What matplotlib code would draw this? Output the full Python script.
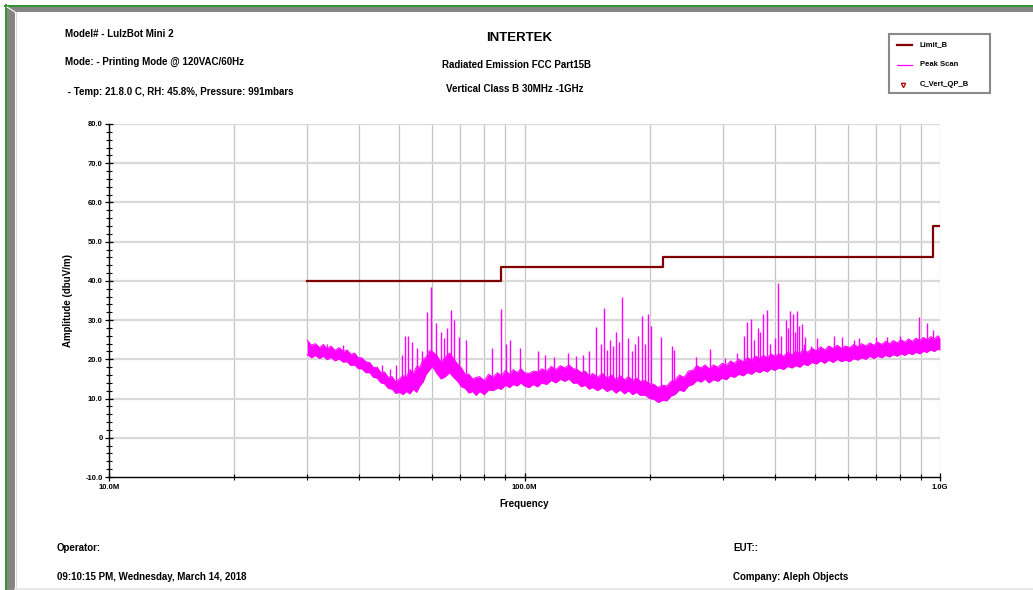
import numpy as np
import matplotlib.pyplot as plt
from matplotlib.ticker import FixedLocator, FixedFormatter
from matplotlib.patches import Rectangle
from matplotlib.lines import Line2D

plt.rcParams['font.family'] = ['Liberation Sans', 'DejaVu Sans']
plt.rcParams['font.weight'] = 'bold'

W, H = 1033, 590

# FCC Part 15B class B limit (MHz, dBuV/m), stepped
limit_freq = [30, 88, 216, 960, 1000]
limit_level = [40.0, 43.5, 46.0, 54.0, 54.0]

# peak scan noise floor: lower / upper edge of the trace (MHz, dBuV/m)
scan_freq = [30, 30.7, 31.4, 32.1, 32.8, 33.5, 34.2, 35, 35.8, 36.6, 37.4, 38.2, 39, 39.8,
             40.6, 41.5, 42.4, 43.3, 44.2, 45.1, 46, 47, 48, 49,
             50, 51, 52, 53, 54, 55, 56, 57, 58, 59, 60,
             61.5, 63, 64.5, 66, 67.5, 69, 70.5, 72, 73.5, 75,
             76.5, 78, 80, 82, 84, 86, 88, 90, 92, 94, 96, 98, 100,
             102.5, 105, 107.5, 110, 113, 116, 119, 122, 125, 128,
             131, 134, 137, 140, 143, 146, 150, 154, 158, 162,
             166, 170, 174, 178, 182, 186, 190, 195, 200,
             205, 210, 215, 220, 225, 230, 236, 242, 248, 254,
             260, 266, 272, 278, 285, 292, 299, 306, 313, 320,
             328, 336, 344, 352, 360, 368, 376, 384, 392, 400,
             410, 420, 430, 440, 450, 460, 470, 480, 492, 504,
             516, 528, 540, 553, 566, 579, 592, 606, 620, 634,
             648, 663, 678, 693, 708, 724, 740, 756, 772, 789,
             806, 823, 840, 858, 876, 894, 912, 931, 950, 969, 988, 1000]
scan_low = [21.2, 20.4, 21.0, 20.2, 20.8, 19.9, 20.5, 19.6, 20.1, 19.3, 19.4, 18.4, 18.6, 17.6,
            17.6, 16.6, 16.6, 15.4, 15.2, 14.0, 13.8, 12.6, 12.4, 11.3,
            11.6, 11.0, 11.8, 11.2, 12.4, 11.6, 13.2, 14.2, 16.2, 17.2, 18.2,
            16.4, 15.0, 15.6, 16.6, 15.4, 14.4, 13.0, 12.6, 11.4, 11.8,
            10.8, 11.8, 11.0, 12.2, 12.0, 12.6, 12.4, 13.4, 12.8, 13.6, 13.2, 14.0, 13.2,
            12.8, 13.6, 13.0, 14.0, 13.6, 14.6, 14.0, 14.9, 14.4, 15.0,
            13.9, 14.0, 13.0, 13.4, 12.4, 12.8, 12.0, 12.8, 11.8, 12.4,
            11.4, 12.2, 11.2, 12.0, 11.0, 11.6, 10.8, 10.9, 10.0,
            9.8, 9.0, 9.6, 9.4, 10.6, 11.0, 12.2, 11.8, 13.2, 13.6,
            14.6, 14.2, 15.0, 14.0, 14.8, 14.4, 15.2, 14.8, 15.8, 15.4,
            16.2, 15.8, 16.6, 16.2, 17.0, 16.6, 17.2, 16.8, 17.6, 17.2,
            17.8, 17.4, 18.2, 17.8, 18.4, 18.0, 18.8, 18.4, 19.2, 18.8,
            19.6, 19.0, 19.8, 19.2, 20.0, 19.4, 19.8, 19.4, 20.2, 19.8,
            20.4, 20.0, 20.8, 20.2, 20.8, 20.4, 21.0, 20.6, 21.2, 20.8,
            21.4, 21.0, 21.6, 21.2, 21.8, 21.4, 22.0, 21.8, 22.4, 22.0, 22.6, 22.4]
scan_high = [24.9, 23.6, 24.0, 23.0, 23.8, 22.6, 23.4, 22.3, 23.0, 22.0, 22.4, 21.3, 21.6, 20.4,
             20.4, 19.4, 19.2, 17.9, 18.0, 16.6, 16.8, 15.4, 15.6, 14.2,
             15.0, 15.8, 15.6, 17.4, 16.4, 18.2, 18.0, 20.0, 20.6, 22.2, 22.0,
             21.0, 19.2, 20.6, 21.6, 20.2, 18.8, 17.8, 16.2, 16.2, 15.0,
             15.4, 15.6, 14.6, 16.2, 15.4, 16.6, 15.8, 17.2, 16.2, 17.4, 16.6, 17.6, 16.6,
             16.4, 17.0, 16.8, 17.6, 17.0, 18.2, 17.4, 18.4, 17.8, 18.6,
             17.6, 17.4, 16.6, 17.0, 15.8, 16.4, 15.4, 16.4, 15.2, 16.0,
             14.8, 15.8, 14.8, 15.6, 14.6, 15.2, 14.4, 14.6, 13.8,
             13.6, 12.8, 13.4, 13.2, 14.4, 14.6, 16.0, 15.4, 17.0, 17.2,
             18.4, 17.8, 18.6, 17.6, 18.6, 18.0, 19.0, 18.4, 19.6, 19.0,
             20.0, 19.4, 20.4, 19.8, 20.8, 20.2, 21.0, 20.4, 21.4, 20.8,
             21.4, 20.8, 21.8, 21.2, 22.0, 21.6, 22.4, 21.8, 22.8, 22.2,
             23.2, 22.4, 23.4, 22.8, 23.6, 22.8, 23.4, 23.0, 23.8, 23.2,
             24.0, 23.4, 24.2, 23.6, 24.4, 23.8, 24.6, 24.0, 24.8, 24.2,
             25.0, 24.4, 25.2, 24.6, 25.4, 24.8, 25.6, 25.0, 25.8, 25.2, 26.0, 25.4]

# narrowband peaks above the floor (MHz, dBuV/m)
spike_freq = [33.5, 36.5, 45.5, 47.5, 49.0, 50.8, 51.6, 52.4, 53.5, 55.2,
              56.7, 58.3, 59.5, 61.3, 63.1, 64.0, 65.2, 66.5, 67.6, 69.7,
              72.5, 83.4, 87.6, 90.2, 92.4, 97.6, 107.8, 112, 118, 127,
              133, 138, 148.8, 155.4, 160.5, 166, 172, 177.5, 184, 191.8,
              198.2, 202, 212.8, 226, 229, 259, 279, 303, 324, 344,
              351, 364, 374, 384, 400, 407, 426, 436, 443, 452,
              465, 473, 505, 557, 581, 640, 747, 889, 930,
              143, 153, 158, 163, 169, 181, 188, 195, 337, 356,
              369, 390, 414, 431, 447, 457, 470, 490, 620, 700,
              800, 960]
spike_peak = [24.0, 23.6, 18.5, 17.5, 18.5, 21.0, 26.0, 26.0, 24.5, 23.0,
              22.0, 32.0, 38.4, 29.3, 27.0, 25.5, 28.0, 32.5, 30.0, 25.8,
              25.0, 22.8, 32.8, 24.0, 25.0, 23.0, 22.0, 21.0, 20.5, 21.5,
              20.8, 21.0, 28.3, 33.0, 25.0, 27.0, 35.8, 25.5, 24.0, 31.0,
              31.5, 28.5, 25.8, 23.3, 22.5, 20.5, 22.6, 20.3, 21.5, 29.4,
              30.4, 28.0, 31.5, 32.5, 25.5, 39.4, 30.0, 32.4, 31.5, 32.2,
              29.0, 25.6, 25.4, 26.0, 25.8, 25.4, 25.8, 30.7, 29.2,
              22.0, 24.0, 22.5, 23.5, 24.5, 22.0, 26.0, 24.0, 26.0, 25.0,
              27.0, 24.0, 26.0, 28.0, 27.0, 28.5, 24.0, 23.5, 25.0, 25.6,
              26.0, 27.5]

y_ticks = [-10, 0, 10, 20, 30, 40, 50, 60, 70, 80]
y_labels = ['-10.0', '0', '10.0', '20.0', '30.0', '40.0', '50.0', '60.0', '70.0', '80.0']
x_ticks = [1e7, 1e8, 1e9]
x_labels = ['10.0M', '100.0M', '1.0G']

LIMIT_C = '#800000'
SCAN_C = '#ff00ff'

fig = plt.figure(figsize=(W / 100, H / 100), dpi=100)


def fx(px):
    return px / W


def fy(py):
    return 1 - py / H


# window frame
fig.add_artist(Line2D([fx(5), 1], [fy(5.5), fy(5.5)], color='#1e8a1e', lw=1.3))
fig.add_artist(Line2D([fx(5.5), fx(5.5)], [fy(5), 0], color='#1e8a1e', lw=1.3))
fig.add_artist(Rectangle((fx(6.5), fy(11.5)), 1, fy(7) - fy(11.5), color='#858585', lw=0))
fig.add_artist(Rectangle((fx(7), 0), fx(15) - fx(7), fy(7), color='#858585', lw=0))
fig.add_artist(Line2D([fx(7), fx(15)], [fy(7), fy(12)], color='white', lw=0.8))
fig.add_artist(Line2D([fx(15.5), fx(15.5)], [fy(12), 0], color='#d8d8d8', lw=0.7))
fig.add_artist(Line2D([fx(15), 1], [fy(589), fy(589)], color='#e4e4e4', lw=1.2))

ax = fig.add_axes([fx(109), fy(477), fx(940) - fx(109), fy(124) - fy(477)])
ax.set_xscale('log')
ax.set_xlim(1e7, 1e9)
ax.set_ylim(-10, 80)

# grid
minor_x = [m * d for d in (1e7, 1e8) for m in range(2, 10)]
for xv in minor_x + [1e8, 1e9]:
    ax.axvline(xv, color='#c4c4c4', lw=0.9, zorder=0)
for yv in y_ticks[1:]:
    ax.axhline(yv, color='#d9d9d9', lw=1.6, zorder=0)

# peak scan
sf = np.array(scan_freq) * 1e6
ax.fill_between(sf, scan_low, scan_high, color=SCAN_C, lw=0, zorder=2)
ax.plot(sf, scan_low, color=SCAN_C, lw=0.7, zorder=2)
ax.plot(sf, scan_high, color=SCAN_C, lw=0.7, zorder=2)
base = np.interp(np.log10(spike_freq), np.log10(scan_freq), scan_high) - 1.0
ax.vlines(np.array(spike_freq) * 1e6, base, spike_peak, color=SCAN_C, lw=1.0, zorder=2)

# limit line
ax.plot(np.array(limit_freq) * 1e6, limit_level, drawstyle='steps-post',
        color=LIMIT_C, lw=1.6, zorder=3)

for s in ('top', 'right'):
    ax.spines[s].set_visible(False)
for s in ('left', 'bottom'):
    ax.spines[s].set_linewidth(1.0)
    ax.spines[s].set_zorder(4)

ax.yaxis.set_major_locator(FixedLocator(y_ticks))
ax.yaxis.set_major_formatter(FixedFormatter(y_labels))
ax.yaxis.set_minor_locator(FixedLocator([v for v in range(-10, 81, 2) if v % 10]))
ax.xaxis.set_major_locator(FixedLocator(x_ticks))
ax.xaxis.set_major_formatter(FixedFormatter(x_labels))
ax.xaxis.set_minor_locator(FixedLocator(minor_x))
ax.xaxis.set_minor_formatter(FixedFormatter([''] * len(minor_x)))
ax.tick_params(which='major', direction='inout', length=6, width=0.9, labelsize=5.5, pad=1.5)
ax.tick_params(which='minor', direction='inout', length=4, width=0.8)
ax.tick_params(axis='x', which='major', pad=2)
for lab in ax.get_xticklabels() + ax.get_yticklabels():
    lab.set_fontweight('bold')

ax.set_xlabel('Frequency', fontsize=7, fontweight='bold', labelpad=6)
ax.set_ylabel('Amplitude (dbuV/m)', fontsize=7, fontweight='bold', labelpad=9)

# header text
txt = dict(fontsize=7, fontweight='bold', va='center')
fig.text(fx(65), fy(34), 'Model# - LulzBot Mini 2', **txt)
fig.text(fx(65), fy(62), 'Mode: - Printing Mode @ 120VAC/60Hz', **txt)
fig.text(fx(65), fy(92), ' - Temp: 21.8.0 C, RH: 45.8%, Pressure: 991mbars', **txt)
fig.text(fx(519), fy(38), 'INTERTEK', fontsize=9.5, fontweight='bold', ha='center', va='center')
fig.text(fx(517), fy(65), 'Radiated Emission FCC Part15B', ha='center', **txt)
fig.text(fx(515), fy(89), 'Vertical Class B 30MHz -1GHz', ha='center', **txt)

# footer text
fig.text(fx(57), fy(548), 'Operator:', **txt)
fig.text(fx(57), fy(577), '09:10:15 PM, Wednesday, March 14, 2018', **txt)
fig.text(fx(733), fy(548), 'EUT::', **txt)
fig.text(fx(733), fy(577), 'Company: Aleph Objects', **txt)

# legend box
fig.add_artist(Rectangle((fx(889), fy(93)), fx(990) - fx(889), fy(34) - fy(93),
                         facecolor='white', edgecolor='#8a8a8a', lw=1.5))
fig.add_artist(Line2D([fx(897), fx(912)], [fy(45), fy(45)], color=LIMIT_C, lw=1.6))
fig.add_artist(Line2D([fx(897), fx(912)], [fy(64.5), fy(64.5)], color=SCAN_C, lw=0.9))
fig.add_artist(Line2D([fx(903)], [fy(84.5)], marker='v', markersize=3.2, mfc='white',
                      mec='#b00000', mew=0.9, ls='none'))
leg = dict(fontsize=5.5, fontweight='bold', va='center')
fig.text(fx(920), fy(45), 'Limit_B', **leg)
fig.text(fx(920), fy(64.5), 'Peak Scan', **leg)
fig.text(fx(920), fy(84.5), 'C_Vert_QP_B', **leg)

fig.savefig('out.png', dpi=100)
